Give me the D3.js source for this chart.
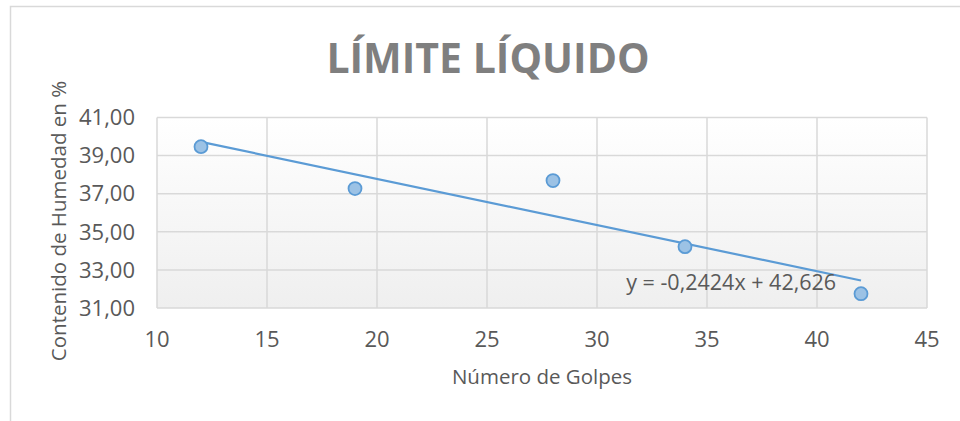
<!DOCTYPE html>
<html lang="es">
<head>
    <meta charset="UTF-8">
    <title>Límite Líquido</title>
    <script src="https://d3js.org/d3.v7.min.js"></script>
    <style>
        body { margin: 0; background: #fff; }
        text { font-family: "Open Sans", "Noto Sans", sans-serif; fill: #595959; }
        .grid line { stroke: #d9d9d9; stroke-width: 1.5px; }
        .tick-label { font-size: 22px; }
    </style>
</head>
<body>
    <div id="chart"></div>
    <script>
        // datos
        var golpes = [12, 19, 28, 34, 42];
        var humedad = [39.47, 37.27, 37.69, 34.22, 31.75];
        var xTicks = [10, 15, 20, 25, 30, 35, 40, 45];
        var yTicks = [31, 33, 35, 37, 39, 41];
        var pendiente = -0.2424;
        var intercepto = 42.626;

        var width = 960, height = 421;
        var margin = { top: 117.5, right: 33, bottom: 113, left: 157 };
        var w = width - margin.left - margin.right;
        var h = height - margin.top - margin.bottom;

        var svg = d3.select("#chart").append("svg")
            .attr("width", width)
            .attr("height", height);

        // borde del area del grafico
        svg.append("rect")
            .attr("x", 10.5).attr("y", 6.5)
            .attr("width", 1000).attr("height", 1000)
            .attr("fill", "none")
            .attr("stroke", "#d9d9d9")
            .attr("stroke-width", 1.5);

        var defs = svg.append("defs");
        var grad = defs.append("linearGradient")
            .attr("id", "bg").attr("x1", 0).attr("y1", 0).attr("x2", 0).attr("y2", 1);
        grad.append("stop").attr("offset", "0%").attr("stop-color", "#ffffff");
        grad.append("stop").attr("offset", "100%").attr("stop-color", "#efefef");

        var g = svg.append("g")
            .attr("transform", `translate(${margin.left},${margin.top})`);

        var x = d3.scaleLinear().domain([10, 45]).range([0, w]);
        var y = d3.scaleLinear().domain([31, 41]).range([h, 0]);

        g.append("rect")
            .attr("width", w).attr("height", h)
            .attr("fill", "url(#bg)");

        var grid = g.append("g").attr("class", "grid");
        grid.selectAll(".vx").data(xTicks).enter().append("line")
            .attr("x1", d => x(d)).attr("x2", d => x(d))
            .attr("y1", 0).attr("y2", h);
        grid.selectAll(".hy").data(yTicks).enter().append("line")
            .attr("x1", 0).attr("x2", w)
            .attr("y1", d => y(d)).attr("y2", d => y(d));

        var fmt = d => d.toFixed(2).replace(".", ",");

        g.selectAll(".xlab").data(xTicks).enter().append("text")
            .attr("class", "tick-label")
            .attr("x", d => x(d))
            .attr("y", h + 39)
            .attr("text-anchor", "middle")
            .text(d => d);

        g.selectAll(".ylab").data(yTicks).enter().append("text")
            .attr("class", "tick-label")
            .attr("x", -22)
            .attr("y", d => y(d))
            .attr("dy", "0.35em")
            .attr("text-anchor", "end")
            .text(fmt);

        // linea de tendencia
        var xr = d3.extent(golpes);
        g.append("line")
            .attr("x1", x(xr[0])).attr("y1", y(pendiente * xr[0] + intercepto))
            .attr("x2", x(xr[1])).attr("y2", y(pendiente * xr[1] + intercepto))
            .attr("stroke", "#5b9bd5")
            .attr("stroke-width", 2.2);

        var pts = golpes.map((d, i) => ({ x: d, y: humedad[i] }));
        g.selectAll(".pt").data(pts).enter().append("circle")
            .attr("cx", d => x(d.x))
            .attr("cy", d => y(d.y))
            .attr("r", 6.5)
            .attr("fill", "#9cc2e5")
            .attr("stroke", "#5b9bd5")
            .attr("stroke-width", 1.8);

        g.append("text")
            .attr("x", x(36.1))
            .attr("y", y(31.93))
            .attr("text-anchor", "middle")
            .style("font-size", "21.5px")
            .text("y = -0,2424x + 42,626");

        svg.append("text")
            .attr("x", 488)
            .attr("y", 73)
            .attr("text-anchor", "middle")
            .style("font-size", "41px")
            .style("font-weight", "bold")
            .style("fill", "#7f7f7f")
            .text("LÍMITE LÍQUIDO");

        svg.append("text")
            .attr("x", margin.left + w / 2)
            .attr("y", 384)
            .attr("text-anchor", "middle")
            .style("font-size", "20.5px")
            .text("Número de Golpes");

        svg.append("text")
            .attr("transform", "translate(66,221) rotate(-90)")
            .attr("text-anchor", "middle")
            .style("font-size", "20.5px")
            .text("Contenido de Humedad en %");
    </script>
</body>
</html>
